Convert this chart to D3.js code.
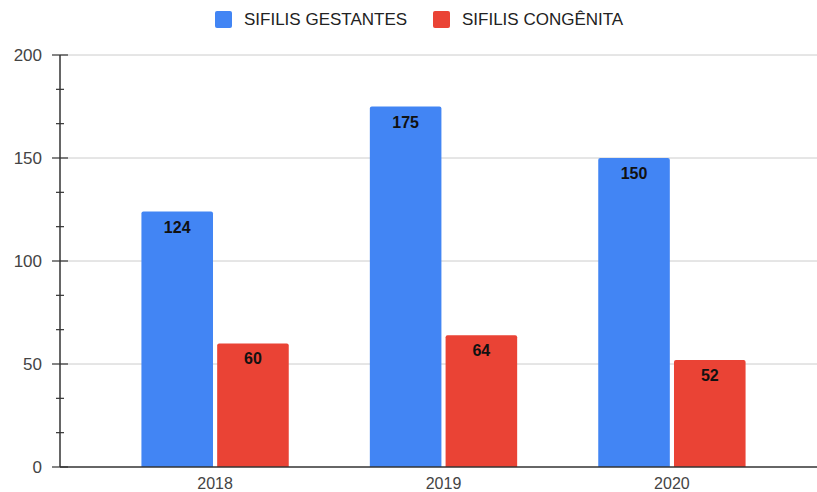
<!DOCTYPE html>
<html><head><meta charset="utf-8">
<script src="https://cdn.jsdelivr.net/npm/d3@7/dist/d3.min.js"></script>
<style>body{margin:0;background:#fff;} text{font-family:"Liberation Sans", Arial, sans-serif;}</style>
</head><body>
<svg id="c" width="817" height="492"></svg>
<script>
const categories = ["2018", "2019", "2020"];
const seriesNames = ["SIFILIS GESTANTES", "SIFILIS CONGÊNITA"];
const gestantes = [124, 175, 150];
const congenita = [60, 64, 52];
const yTicks = [0, 50, 100, 150, 200];
const colors = ["#4285F4", "#EA4335"];
const FONT = '"Liberation Sans", Arial, sans-serif';

const svg = d3.select("#c");
const y = d3.scaleLinear().domain([0, 200]).range([467, 55]);
const x = d3.scaleBand().domain(categories).range([101, 786]).paddingInner(0.355).paddingOuter(0.177);
const xs = d3.scaleBand().domain([0, 1]).range([0, x.bandwidth()]).paddingInner(0.055);

// gridlines
svg.append("g").selectAll("line").data(yTicks.filter(d => d > 0)).join("line")
  .attr("x1", 60).attr("x2", 817).attr("y1", d => y(d)).attr("y2", d => y(d))
  .attr("stroke", "#cccccc").attr("stroke-width", 1);

// bars
const data = categories.map((c, i) => ({c, v: [gestantes[i], congenita[i]]}));
const g = svg.append("g");
data.forEach(d => {
  d.v.forEach((v, j) => {
    const bx = x(d.c) + xs(j), bw = xs.bandwidth();
    g.append("path")
      .attr("d", () => {
        const r = 2, top = y(v), bot = y(0);
        return `M${bx},${bot}V${top + r}Q${bx},${top} ${bx + r},${top}H${bx + bw - r}Q${bx + bw},${top} ${bx + bw},${top + r}V${bot}Z`;
      })
      .attr("fill", colors[j]);
    g.append("text").attr("x", bx + bw / 2).attr("y", y(v) + 21)
      .attr("text-anchor", "middle").attr("font-size", 16).attr("font-weight", "bold")
      .attr("fill", "#111").attr("font-family", FONT).text(v);
  });
});

// baseline
svg.append("line").attr("x1", 60).attr("x2", 817).attr("y1", y(0)).attr("y2", y(0))
  .attr("stroke", "#333").attr("stroke-width", 1.5);

// y axis
const yAxis = d3.axisLeft(y).tickValues(yTicks).tickSize(0).tickPadding(18);
const ya = svg.append("g").attr("transform", "translate(60,0)").call(yAxis);
ya.select(".domain").remove();
ya.selectAll("text").attr("font-size", 17).attr("fill", "#444").attr("font-family", FONT);
svg.append("line").attr("x1", 60).attr("x2", 60).attr("y1", y(200)).attr("y2", y(0))
  .attr("stroke", "#333").attr("stroke-width", 1.5);
const minor = d3.range(0, 200.01, 50 / 3);
svg.append("g").selectAll("line").data(minor).join("line")
  .attr("x1", (d, i) => i % 3 === 0 ? 52 : 56).attr("x2", (d, i) => i % 3 === 0 ? 68 : 64)
  .attr("y1", d => y(d)).attr("y2", d => y(d)).attr("stroke", "#333").attr("stroke-width", 1.2);

// x axis labels
const xAxis = d3.axisBottom(x).tickSize(0).tickPadding(11);
const xa = svg.append("g").attr("transform", `translate(0,${y(0)})`).call(xAxis);
xa.select(".domain").remove();
xa.selectAll("text").attr("font-size", 16).attr("fill", "#444").attr("font-family", FONT);

// legend
const legX = [215, 433];
const lg = svg.append("g");
seriesNames.forEach((n, i) => {
  lg.append("rect").attr("x", legX[i]).attr("y", 11).attr("width", 17).attr("height", 17).attr("rx", 2).attr("fill", colors[i]);
  lg.append("text").attr("x", legX[i] + 29).attr("y", 25).attr("font-size", 17).attr("fill", "#222")
    .attr("font-family", FONT).text(n);
});
</script>
</body></html>
